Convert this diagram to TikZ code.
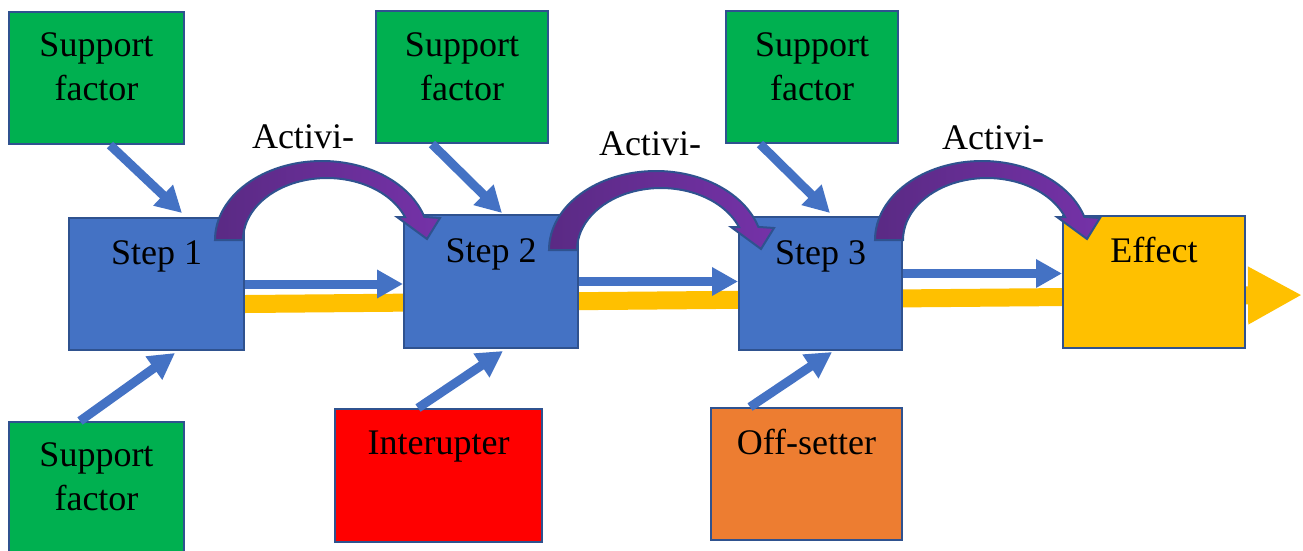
\documentclass[tikz,border=0pt]{standalone}
\usepackage{fontspec}
\setmainfont{Liberation Serif}
\usetikzlibrary{arrows.meta}
\definecolor{sgreen}{HTML}{00B050}
\definecolor{sblue}{HTML}{4472C4}
\definecolor{edgeblue}{HTML}{2F528F}
\definecolor{syellow}{HTML}{FFC000}
\definecolor{sred}{HTML}{FF0000}
\definecolor{sorange}{HTML}{ED7D31}
\definecolor{purpA}{HTML}{5A2A84}
\definecolor{purpB}{HTML}{7532A8}
\pgfdeclarelayer{bg}
\pgfsetlayers{bg,main}
\newcommand\actarrow[2]{%
  \begin{scope}[shift={(#1,#2)}]
    \draw[draw=edgeblue, line width=2pt, left color=purpA, right color=purpB, line join=miter]
      (215,240) arc[start angle=180, end angle=343, x radius=107, y radius=79]
      -- (440,218) -- (427,239) -- (397,217) -- (405,217)
      arc[start angle=338.2, end angle=180, x radius=84, y radius=62] -- cycle;
  \end{scope}}
\begin{document}
\begin{tikzpicture}[x=1pt, y=-1pt, font=\fontsize{36}{44}\selectfont,
  box/.style={draw=edgeblue, line width=2pt, inner sep=0pt, anchor=north west},
  barrow/.style={draw=sblue, line width=9pt, -{Triangle[length=26pt 0, width=27pt 0]}},
  yarrow/.style={draw=syellow, line width=18pt, -{Triangle[length=54pt 0, width=54pt 0]}},
  txt/.style={anchor=base, inner sep=0pt}]
\useasboundingbox (0,0) rectangle (1303,550);

% support factors
\node[box, fill=sgreen, minimum width=175pt, text height=44pt, text depth=88pt] (sf1) at (8,11)
  {\begin{tabular}[t]{@{}c@{}}Support\\factor\end{tabular}};
\node[box, fill=sgreen, minimum width=172pt, text height=45pt, text depth=87pt] (sf2) at (375,10)
  {\begin{tabular}[t]{@{}c@{}}Support\\factor\end{tabular}};
\node[box, fill=sgreen, minimum width=172pt, text height=45pt, text depth=87pt] (sf3) at (725,10)
  {\begin{tabular}[t]{@{}c@{}}Support\\factor\end{tabular}};
\node[box, fill=sgreen, minimum width=175pt, text height=44pt, text depth=92pt] (sf4) at (8,421)
  {\begin{tabular}[t]{@{}c@{}}Support\\factor\end{tabular}};

% steps
\node[box, fill=sblue, minimum width=175pt, text height=46pt, text depth=86pt] (step1) at (68,217) {Step 1};
\node[box, fill=sblue, minimum width=174pt, text height=47pt, text depth=86pt] (step2) at (403,214) {Step 2};
\node[box, fill=sblue, minimum width=163pt, text height=47pt, text depth=86pt] (step3) at (738,216) {Step 3};
\node[box, fill=syellow, minimum width=182pt, text height=46pt, text depth=86pt] (effect) at (1062,215) {Effect};

% bottom boxes
\node[box, fill=sred, minimum width=207pt, text height=45pt, text depth=88pt] (int) at (334,408) {Interupter};
\node[box, fill=sorange, minimum width=191pt, text height=46pt, text depth=86pt] (off) at (710,407) {Off-setter};

% background and yellow main arrow (behind)
\coordinate (ytip) at (1302,295);
\begin{pgfonlayer}{bg}
\fill[white] (0,0) rectangle (1303,550);
\draw[yarrow] ([yshift=-20pt]step1.east) -- (ytip);
\end{pgfonlayer}

% support arrows
\draw[barrow] ([xshift=102pt]sf1.south west) -- ([xshift=114pt,yshift=4pt]step1.north west);
\draw[barrow] ([xshift=57pt]sf2.south west) -- ([xshift=99pt,yshift=1pt]step2.north west);
\draw[barrow] ([xshift=35pt]sf3.south west) -- ([xshift=92pt,yshift=3pt]step3.north west);
\draw[barrow] ([xshift=72pt]sf4.north west) -- ([xshift=107pt,yshift=-2pt]step1.south west);
\draw[barrow] ([xshift=84pt]int.north west) -- ([xshift=100pt,yshift=-2pt]step2.south west);
\draw[barrow] ([xshift=40pt]off.north west) -- ([xshift=94pt,yshift=-1pt]step3.south west);

% horizontal arrows
\draw[barrow] (step1.east) -- (step1.east -| step2.west);
\draw[barrow] (step2.east) -- (step2.east -| step3.west);
\coordinate (h3s) at ([yshift=10pt]step3.east);
\draw[barrow] (h3s) -- (h3s -| effect.west);

% activation arcs
\actarrow{0}{0}
\actarrow{334}{10}
\actarrow{660}{0}
\node[txt] (act1) at (303,148) {Activi-};
\node[txt] (act2) at (650,155) {Activi-};
\node[txt] (act3) at (993,149) {Activi-};
\end{tikzpicture}
\end{document}
